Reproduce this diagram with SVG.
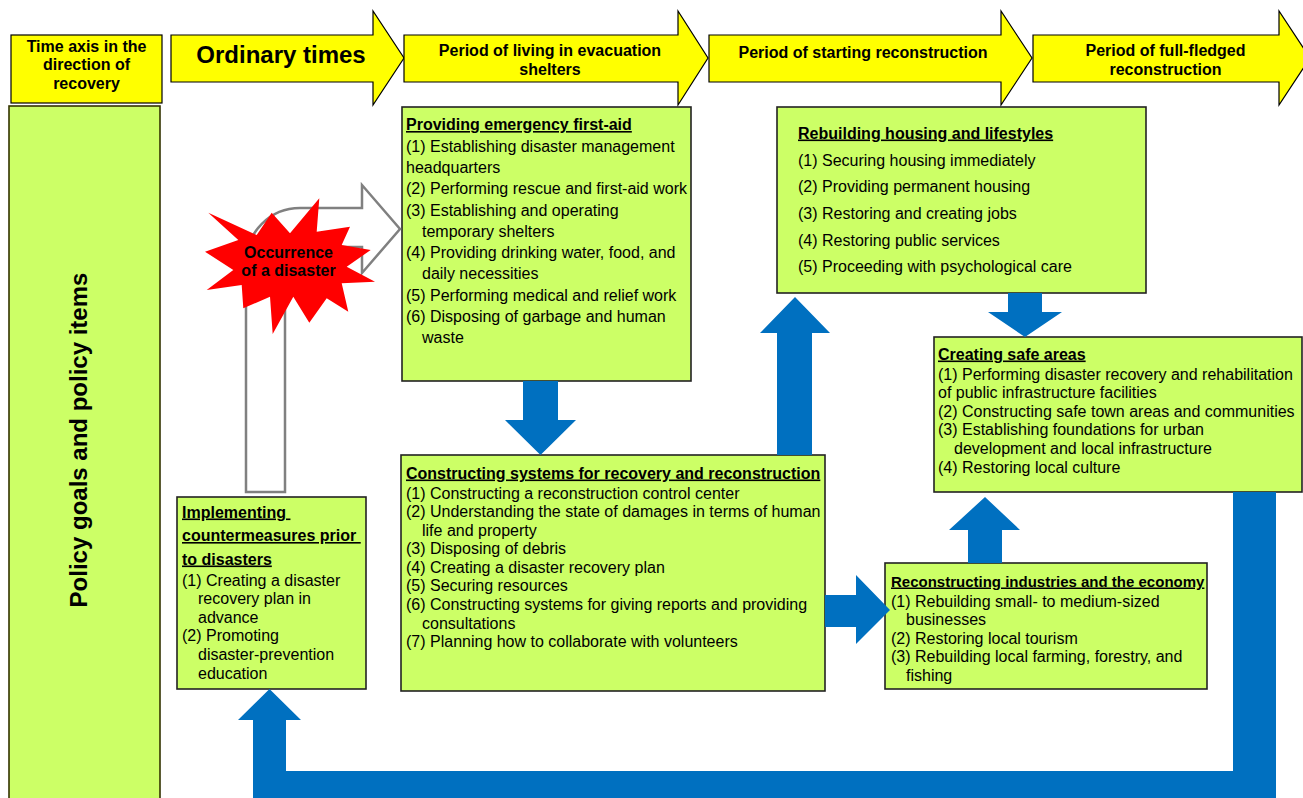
<svg xmlns="http://www.w3.org/2000/svg" width="1303" height="798" viewBox="0 0 1303 798">
<style>
.t{font-family:"Liberation Sans",Arial,sans-serif;font-size:16px;fill:#000}
.b{font-weight:bold}
.u{text-decoration:underline}
.c{text-anchor:middle}
.hdr{fill:#FFFF00;stroke:#000;stroke-width:1.2}
.box{fill:#CCFF66;stroke:#222;stroke-width:1.6}
.blue{fill:#0070C0}
</style>
<rect width="1303" height="798" fill="#fff"/>

<g id="header">
  <g id="time-axis">
    <rect class="hdr" x="11" y="35" width="151" height="68"/>
    <text class="t b c" x="86.5" y="51.5">Time axis in the</text>
    <text class="t b c" x="86.5" y="70">direction of</text>
    <text class="t b c" x="86.5" y="88.5">recovery</text>
  </g>
  <g id="ordinary-times">
    <path class="hdr" d="M171 35 H373 V11 L404 58 L373 105 V82 H171 Z"/>
    <text class="t b c" x="281" y="62.5" style="font-size:24px">Ordinary times</text>
  </g>
  <g id="period-evacuation">
    <path class="hdr" d="M404 35 H678 V11 L708 58 L678 105 V82 H404 Z"/>
    <text class="t b c" x="550" y="55.5">Period of living in evacuation</text>
    <text class="t b c" x="550" y="74.5">shelters</text>
  </g>
  <g id="period-starting">
    <path class="hdr" d="M709 35 H1001 V11 L1032 58 L1001 105 V82 H709 Z"/>
    <text class="t b c" x="863" y="57.5">Period of starting reconstruction</text>
  </g>
  <g id="period-full">
    <path class="hdr" d="M1033 35 H1279 V11 L1310 58 L1279 105 V82 H1033 Z"/>
    <text class="t b c" x="1165.5" y="55.5">Period of full-fledged</text>
    <text class="t b c" x="1165.5" y="74.5">reconstruction</text>
  </g>
</g>

<g id="policy-goals">
  <rect x="9" y="106" width="151" height="700" fill="#CCFF66" stroke="#333300" stroke-width="1.6"/>
  <text class="t b c" transform="translate(86.5 440) rotate(-90)" style="font-size:24px">Policy goals and policy items</text>
</g>

<g id="emergency-first-aid">
  <rect class="box" x="402" y="107" width="289" height="274"/>
  <text class="t b u" x="406" y="130">Providing emergency first-aid</text>
  <text class="t" x="406" y="151.5">(1) Establishing disaster management</text>
  <text class="t" x="406" y="172.8">headquarters</text>
  <text class="t" x="406" y="194">(2) Performing rescue and first-aid work</text>
  <text class="t" x="406" y="215.5">(3) Establishing and operating</text>
  <text class="t" x="422" y="236.8">temporary shelters</text>
  <text class="t" x="406" y="258">(4) Providing drinking water, food, and</text>
  <text class="t" x="422" y="279.4">daily necessities</text>
  <text class="t" x="406" y="300.7">(5) Performing medical and relief work</text>
  <text class="t" x="406" y="322">(6) Disposing of garbage and human</text>
  <text class="t" x="422" y="343.4">waste</text>
</g>

<g id="rebuilding-housing">
  <rect class="box" x="777" y="107" width="369" height="186"/>
  <text class="t b u" x="798" y="138.5">Rebuilding housing and lifestyles</text>
  <text class="t" x="798" y="165.5">(1) Securing housing immediately</text>
  <text class="t" x="798" y="192">(2) Providing permanent housing</text>
  <text class="t" x="798" y="219">(3) Restoring and creating jobs</text>
  <text class="t" x="798" y="245.5">(4) Restoring public services</text>
  <text class="t" x="798" y="272">(5) Proceeding with psychological care</text>
</g>

<g id="safe-areas">
  <rect class="box" x="934" y="337" width="368" height="155"/>
  <text class="t b u" x="938" y="359.5">Creating safe areas</text>
  <text class="t" x="938" y="379.5">(1) Performing disaster recovery and rehabilitation</text>
  <text class="t" x="938" y="398">of public infrastructure facilities</text>
  <text class="t" x="938" y="416.5">(2) Constructing safe town areas and communities</text>
  <text class="t" x="938" y="435">(3) Establishing foundations for urban</text>
  <text class="t" x="954" y="453.5">development and local infrastructure</text>
  <text class="t" x="938" y="472.5">(4) Restoring local culture</text>
</g>

<g id="countermeasures">
  <rect class="box" x="177" y="497" width="189" height="192"/>
  <text class="t b u" x="182" y="517.5">Implementing&#160;</text>
  <text class="t b u" x="182" y="541">countermeasures prior&#160;</text>
  <text class="t b u" x="182" y="564.5">to disasters</text>
  <text class="t" x="182" y="585.5">(1) Creating a disaster</text>
  <text class="t" x="198" y="604">recovery plan in</text>
  <text class="t" x="198" y="622.5">advance</text>
  <text class="t" x="182" y="641">(2) Promoting</text>
  <text class="t" x="198" y="660">disaster-prevention</text>
  <text class="t" x="198" y="678.5">education</text>
</g>

<g id="constructing-systems">
  <rect class="box" x="401" y="455" width="424" height="236"/>
  <text class="t b u" x="406" y="478.5">Constructing systems for recovery and reconstruction</text>
  <text class="t" x="406" y="498.5">(1) Constructing a reconstruction control center</text>
  <text class="t" x="406" y="516.8">(2) Understanding the state of damages in terms of human</text>
  <text class="t" x="422" y="535.5">life and property</text>
  <text class="t" x="406" y="554">(3) Disposing of debris</text>
  <text class="t" x="406" y="572.5">(4) Creating a disaster recovery plan</text>
  <text class="t" x="406" y="591">(5) Securing resources</text>
  <text class="t" x="406" y="610">(6) Constructing systems for giving reports and providing</text>
  <text class="t" x="422" y="628.5">consultations</text>
  <text class="t" x="406" y="647">(7) Planning how to collaborate with volunteers</text>
</g>

<g id="industries-economy">
  <rect class="box" x="885" y="563" width="322" height="126"/>
  <text class="t b u" x="891" y="586.5" style="font-size:15px">Reconstructing industries and the economy</text>
  <text class="t" x="891" y="606.5">(1) Rebuilding small- to medium-sized</text>
  <text class="t" x="906" y="624.5">businesses</text>
  <text class="t" x="891" y="643.5">(2) Restoring local tourism</text>
  <text class="t" x="891" y="661.5">(3) Rebuilding local farming, forestry, and</text>
  <text class="t" x="906" y="680.5">fishing</text>
</g>

<g id="connectors">
  <path class="blue" d="M523 381 H558 V420 H576 L540.5 455 L505 420 H523 Z"/>
  <path class="blue" d="M777 455 V333 H760 L795 297 L830 333 H812 V455 Z"/>
  <path class="blue" d="M1008 293 V312 H988 L1025 337 L1062 312 H1042 V293 Z"/>
  <path class="blue" d="M968 563 V530 H949 L985 497 L1020 530 H1002 V563 Z"/>
  <path class="blue" d="M825 595 H856 V575 L890 610 L856 644 V627 H825 Z"/>
  <path class="blue" d="M1233 492 H1276 V800 H253 V720 H238 L269.5 689 L301 720 H286 V771 H1233 Z"/>
  <path d="M246 492 V262 A54 54 0 0 1 300 208 H362 V185 L400 229 L362 273 V247 H300 A15 15 0 0 0 285 262 V492 Z" fill="#fff" stroke="#808080" stroke-width="2.5" stroke-linejoin="miter"/>
</g>

<g id="disaster-occurrence">
  <polygon fill="#FF0000" points="208.3,212.7 256.7,235 271.7,212.7 290,233.3 319.3,198.3 316.7,231.7 350,226.7 341.7,245 370.7,250 346.7,266.7 375,281.7 341.7,283.3 348.3,311.7 326.7,298.3 309.3,322.7 293.3,296.7 272.7,334 270,296.7 243.3,308.3 241.7,285 206.7,290 233.3,270 205,251.7 238.3,240"/>
  <text class="t b c" x="288.5" y="257.5">Occurrence</text>
  <text class="t b c" x="288.5" y="275.5">of a disaster</text>
</g>
</svg>
